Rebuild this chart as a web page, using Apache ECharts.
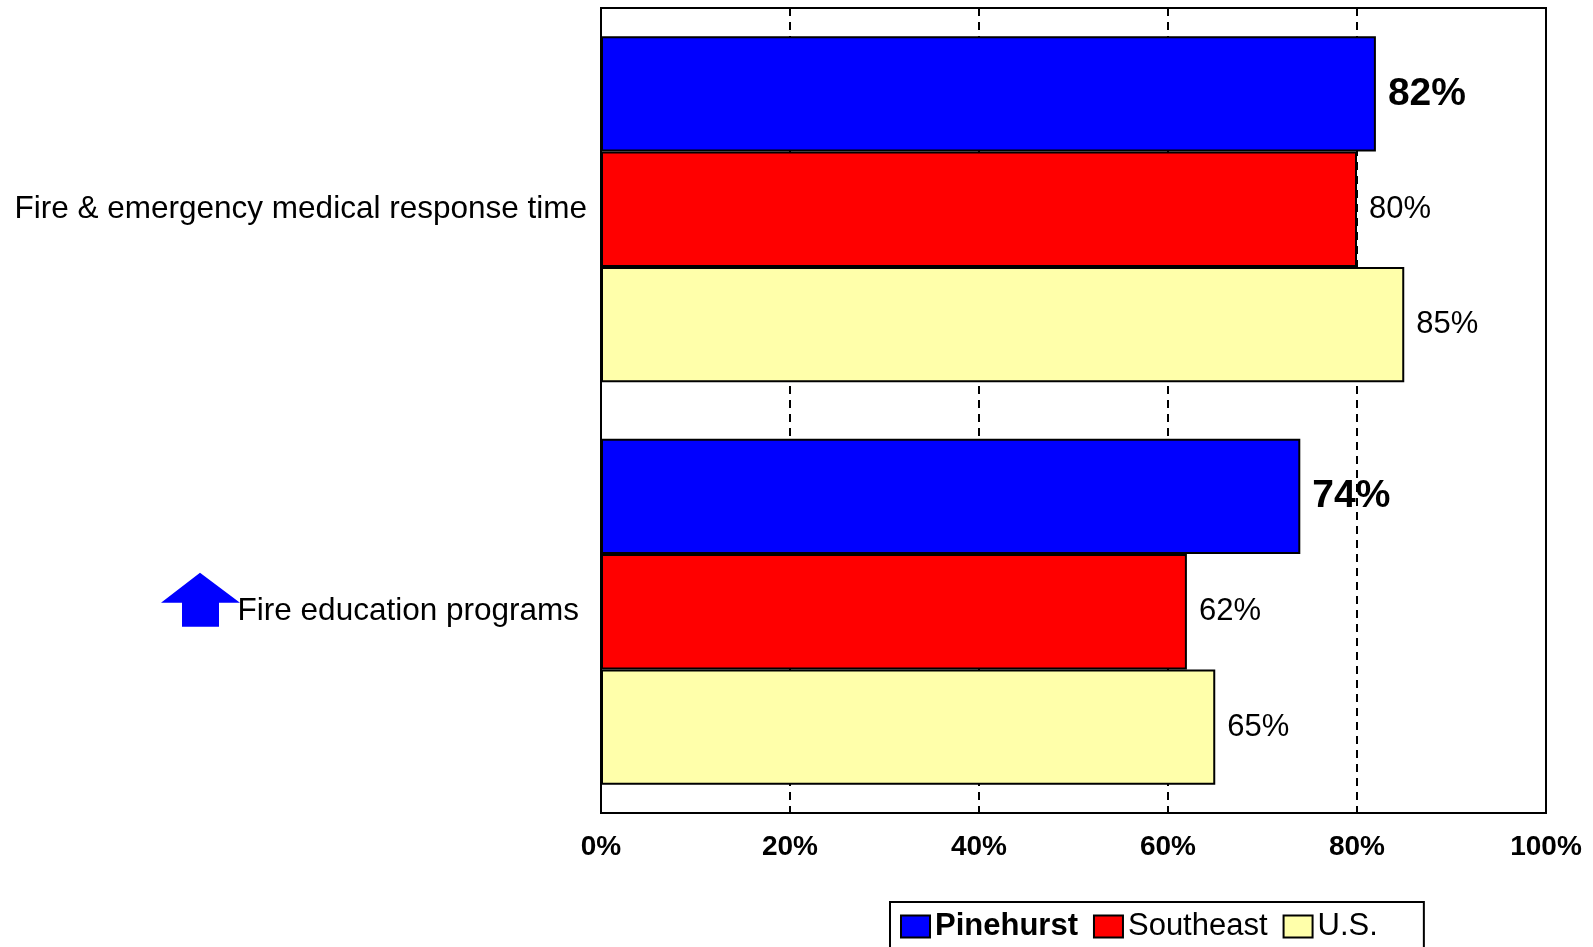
<!DOCTYPE html>
<html>
<head>
<meta charset="utf-8">
<script src="https://cdn.jsdelivr.net/npm/echarts@6/dist/echarts.min.js"></script>
<style>
html,body{margin:0;padding:0;background:#fff;}
#chart{width:1593px;height:947px;}
</style>
</head>
<body>
<div id="chart"></div>
<script>
var categories = ['Fire & emergency medical response time', 'Fire education programs'];
var seriesNames = ['Pinehurst', 'Southeast', 'U.S.'];
var pinehurst = [82, 74];
var southeast = [80, 62];
var us = [85, 65];
var tickValues = [0, 20, 40, 60, 80, 100];
var arrowCategory = 'Fire education programs';

var FONT = '"Liberation Sans", Arial, sans-serif';
var chart = echarts.init(document.getElementById('chart'), null, {renderer: 'canvas'});

function barSeries(name, data, color, bold) {
  return {
    name: name,
    type: 'bar',
    data: data,
    barGap: '0%',
    barCategoryGap: '14%',
    itemStyle: {color: color, borderColor: '#000', borderWidth: 2},
    label: {
      show: true,
      position: 'right',
      distance: 12,
      formatter: '{c}%',
      color: '#000',
      fontFamily: FONT,
      fontSize: bold ? 39 : 31,
      fontWeight: bold ? 'bold' : 'normal'
    },
    emphasis: {disabled: true}
  };
}

var option = {
  animation: false,
  backgroundColor: '#fff',
  grid: {
    left: 601, right: 47, top: 8, bottom: 134,
    show: true, borderColor: '#000', borderWidth: 2, backgroundColor: 'transparent',
    containLabel: false
  },
  xAxis: {
    type: 'value',
    min: 0, max: 100, interval: 20,
    axisLine: {show: true, lineStyle: {color: '#000', width: 2}},
    axisTick: {show: false},
    axisLabel: {
      color: '#000', fontFamily: FONT, fontSize: 28, fontWeight: 'bold', margin: 20,
      formatter: function (v) { return tickValues.indexOf(v) >= 0 ? v + '%' : ''; }
    },
    splitLine: {show: true, lineStyle: {color: '#000', width: 2, type: [8, 6]}}
  },
  yAxis: {
    type: 'category',
    data: categories,
    inverse: true,
    axisLine: {show: true, lineStyle: {color: '#000', width: 2}},
    axisTick: {show: false},
    axisLabel: {
      color: '#000', fontFamily: FONT, fontSize: 31.5, margin: 14,
      formatter: function (v) {
        return v === arrowCategory ? '{b|' + v + '}' : v;
      },
      rich: {b: {color: '#000', fontFamily: FONT, fontSize: 31.5, padding: [0, 8, 0, 0]}}
    }
  },
  legend: {
    left: 890, top: 902,
    padding: [9, 46, 40, 10],
    borderColor: '#000', borderWidth: 2,
    itemWidth: 29, itemHeight: 22, itemGap: 15,
    icon: 'rect',
    textStyle: {color: '#000', fontFamily: FONT, fontSize: 31},
    data: [
      {name: 'Pinehurst', textStyle: {fontWeight: 'bold'}},
      {name: 'Southeast'},
      {name: 'U.S.'}
    ]
  },
  series: [
    barSeries(seriesNames[0], pinehurst, '#0000FF', true),
    barSeries(seriesNames[1], southeast, '#FF0000', false),
    barSeries(seriesNames[2], us, '#FFFFAA', false)
  ]
};
chart.setOption(option);

// Up-arrow annotation beside the "Fire education programs" label, anchored to the axis position
var cy = chart.convertToPixel({yAxisIndex: 0}, arrowCategory);
var ax = 200, ay = cy - 12;
chart.setOption({
  graphic: [{
    type: 'polygon',
    shape: {points: [
      [ax, ay - 27], [ax + 40, ay + 3], [ax + 19, ay + 3], [ax + 19, ay + 27],
      [ax - 18, ay + 27], [ax - 18, ay + 3], [ax - 39, ay + 3]
    ]},
    style: {fill: '#0000FF'},
    silent: true
  }]
});
</script>
</body>
</html>
